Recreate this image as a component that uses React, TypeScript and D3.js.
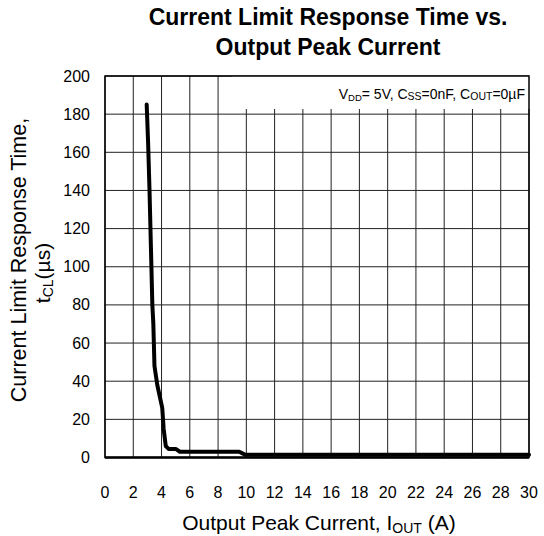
import React from "react";
import * as d3 from "d3";

const xTicks = [0, 2, 4, 6, 8, 10, 12, 14, 16, 18, 20, 22, 24, 26, 28, 30];
const yTicks = [0, 20, 40, 60, 80, 100, 120, 140, 160, 180, 200];
const currentA = [2.95, 3.05, 3.15, 3.25, 3.35, 3.42, 3.5, 3.7, 4.05, 4.15, 4.3, 4.5, 5.0, 5.3, 9.5, 9.9, 30];
const timeUs = [185, 165, 140, 110, 80, 70, 48, 38, 26, 15, 6, 4.5, 4.5, 3, 3, 1.5, 1.5];

const W = 544, H = 536;
const L = 105, R = 529, T = 76, B = 457.5;

export default function App() {
  const x = d3.scaleLinear().domain([0, 30]).range([L, R]);
  const y = d3.scaleLinear().domain([0, 200]).range([B, T]);
  const pts = currentA.map((c, i) => [c, timeUs[i]] as [number, number]);
  const line = d3.line<[number, number]>().x(d => x(d[0])).y(d => y(d[1]))(pts) || "";
  const font = "'Liberation Sans', Arial, sans-serif";
  const boxL = 232;
  const boxB = 109;
  return (
    <svg width={W} height={H} style={{ position: "absolute", left: 0, top: 0, background: "#fff" }} fontFamily={font}>
      <rect x={0} y={0} width={W} height={H} fill="#fff" />
      <text x={328} y={25} textAnchor="middle" fontSize={23} fontWeight="bold">Current Limit Response Time vs.</text>
      <text x={328} y={55} textAnchor="middle" fontSize={23} fontWeight="bold">Output Peak Current</text>
      {xTicks.map(t => (
        <line key={"gx" + t} x1={x(t)} x2={x(t)} y1={x(t) > boxL ? boxB : T} y2={B} stroke="#222" strokeWidth={1} />
      ))}
      {yTicks.map(t => (
        <line key={"gy" + t} x1={L} x2={R} y1={y(t)} y2={y(t)} stroke="#222" strokeWidth={1} />
      ))}
      <rect x={boxL} y={T} width={R - boxL} height={boxB - T} fill="#fff" />
      <rect x={L} y={T} width={R - L} height={B - T} fill="none" stroke="#000" strokeWidth={1.5} />
      <line x1={L} x2={R} y1={B} y2={B} stroke="#000" strokeWidth={2.5} />
      <path d={line} fill="none" stroke="#000" strokeWidth={4} strokeLinejoin="round" strokeLinecap="round" />
      {xTicks.map(t => (
        <text key={"lx" + t} x={x(t)} y={498} textAnchor="middle" fontSize={16}>{t}</text>
      ))}
      {yTicks.map(t => (
        <text key={"ly" + t} x={90} y={y(t) + 5.5} textAnchor="end" fontSize={16}>{t}</text>
      ))}
      <text x={525} y={99} textAnchor="end" fontSize={14}>
        <tspan>V</tspan><tspan fontSize={9.5} dy={2}>DD</tspan><tspan dy={-2}>{"= 5V, C"}</tspan>
        <tspan fontSize={10.5} dy={1}>SS</tspan><tspan dy={-1}>{"=0nF, C"}</tspan>
        <tspan fontSize={10.5} dy={1}>OUT</tspan><tspan dy={-1}>{"=0\u00b5F"}</tspan>
      </text>
      <text x={319} y={530} textAnchor="middle" fontSize={21}>
        <tspan>Output Peak Current, I</tspan><tspan fontSize={14} dy={3}>OUT</tspan><tspan dy={-3}>{" (A)"}</tspan>
      </text>
      <text transform="translate(26,260) rotate(-90)" textAnchor="middle" fontSize={21.5}>Current Limit Response Time,</text>
      <text transform="translate(50,273) rotate(-90)" textAnchor="middle" fontSize={21}>
        <tspan>t</tspan><tspan fontSize={14} dy={3}>CL</tspan><tspan dy={-3}>{"(\u00b5s)"}</tspan>
      </text>
    </svg>
  );
}
